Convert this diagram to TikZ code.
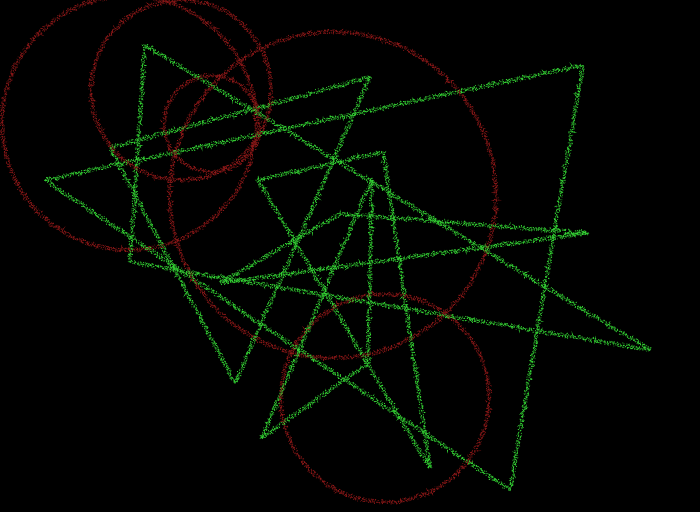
\documentclass[tikz,border=0pt]{standalone}
\usepackage{tikz}
\usetikzlibrary{decorations.pathmorphing}
\definecolor{dotred}{RGB}{140,24,24}
\definecolor{dotgreen}{RGB}{52,212,52}
\tikzset{
	noisy/.style={decorate, decoration={random steps, segment length=1.4pt, amplitude=2.6pt},
		line width=0.8pt, dash pattern=on 0.6pt off 2.2pt},
	ringline/.style={noisy, draw=dotred},
	triline/.style={noisy, draw=dotgreen}
}

\begin{document}
\begin{tikzpicture}[x=1pt, y=-1pt]
				\fill[black] (0,0) rectangle (700,512);
				\useasboundingbox (0,0) rectangle (700,512);
				\coordinate (a1) at (45,180);  \coordinate (a2) at (583,65);  \coordinate (a3) at (510,490);
				\coordinate (b1) at (145,45);  \coordinate (b2) at (130,262); \coordinate (b3) at (650,350);
				\coordinate (c1) at (110,148); \coordinate (c2) at (370,77);  \coordinate (c3) at (235,383);
				\coordinate (d1) at (258,180); \coordinate (d2) at (383,152); \coordinate (d3) at (430,468);
				\coordinate (e1) at (220,283); \coordinate (e2) at (340,214); \coordinate (e3) at (588,233);
				\coordinate (f1) at (372,178); \coordinate (f2) at (262,438); \coordinate (f3) at (368,363);
				\foreach \pass in {1,...,4} {
					\draw[ringline, dash phase=\pass*0.7pt] (129,123) circle (127);
					\draw[ringline, dash phase=\pass*0.7pt] (181,90) circle (90);
					\draw[ringline, dash phase=\pass*0.7pt] (212,124) circle (48);
					\draw[ringline, dash phase=\pass*0.7pt] (333,195) circle (163);
					\draw[ringline, dash phase=\pass*0.7pt] (385,398) circle (104);
					\foreach \t in {a,b,c,d,e,f}
						\draw[triline, dash phase=\pass*0.7pt] (\t1) -- (\t2) -- (\t3) -- cycle;
				}
			\end{tikzpicture}
\end{document}
